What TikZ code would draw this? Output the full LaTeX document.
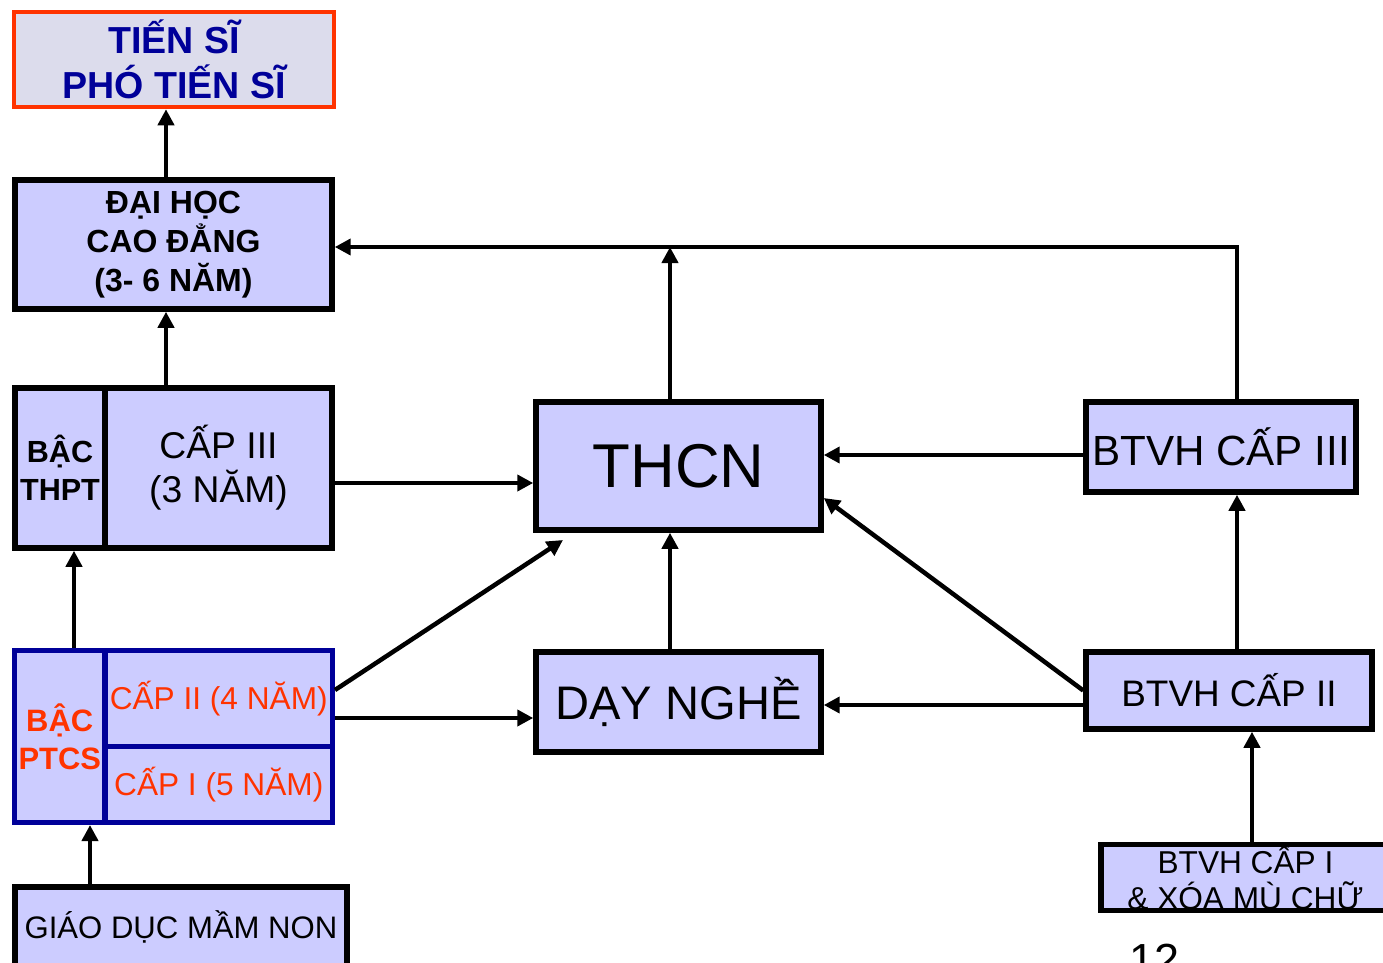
\documentclass[tikz,border=0pt]{standalone}
\usepackage{fontspec}
\setmainfont{Liberation Sans}
\usetikzlibrary{arrows.meta}

\definecolor{boxfill}{HTML}{CCCCFF}
\definecolor{topfill}{HTML}{DCDCEC}
\definecolor{redline}{HTML}{FF3300}
\definecolor{navy}{HTML}{000099}

\begin{document}
\begin{tikzpicture}[x=0.1mm, y=-0.1mm,
			box/.style={rectangle, draw, fill=boxfill, line width=0.55mm, inner sep=0pt, align=center},
			bluebox/.style={box, draw=navy, line width=0.5mm, text=redline},
			arr/.style={-{Triangle[length=1.6mm, width=1.6mm]}, line width=0.45mm}
			]
			\useasboundingbox (0,0) rectangle (1383,963);
			\clip (0,0) rectangle (1383,963);
			
			% Nodes
			\node[box, draw=redline, line width=0.45mm, fill=topfill, text=navy, minimum width=32mm, minimum height=9.5mm,
				font=\fontsize{10.7}{12.8}\selectfont\bfseries] (ts) at (174,59.5) {TIẾN SĨ\\PHÓ TIẾN SĨ};
			\node[box, minimum width=31.7mm, minimum height=12.9mm,
				font=\fontsize{9.1}{11.1}\selectfont\bfseries] (dh) at (173.5,244.5) {ĐẠI HỌC\\CAO ĐẲNG\\(3- 6 NĂM)};
			
			\node[box, minimum width=9mm, minimum height=16mm,
				font=\fontsize{8.7}{10.8}\selectfont\bfseries] (thptL) at (60,468) {BẬC\\THPT};
			\node[box, minimum width=22.7mm, minimum height=16mm,
				font=\fontsize{10.6}{12.5}\selectfont] (thptR) at (218.5,468) {CẤP III\\(3 NĂM)};
			
			\node[bluebox, minimum width=9.05mm, minimum height=17.2mm,
				font=\fontsize{8.8}{10.8}\selectfont\bfseries] (ptcsL) at (59.75,736.5) {BẬC\\PTCS};
			\node[bluebox, minimum width=22.75mm, minimum height=9.55mm,
				font=\fontsize{9}{11}\selectfont] (ptcs2) at (218.75,698.25) {CẤP II (4 NĂM)};
			\node[bluebox, minimum width=22.75mm, minimum height=7.65mm,
				font=\fontsize{9}{11}\selectfont] (ptcs1) at (218.75,784.25) {CẤP I (5 NĂM)};
			
			\node[box, minimum width=33.2mm, minimum height=8mm,
				font=\fontsize{8.85}{11}\selectfont] (mn) at (181,927) {GIÁO DỤC MẦM NON};
			
			\node[box, minimum width=28.5mm, minimum height=12.8mm,
				font=\fontsize{17.6}{20}\selectfont] (thcn) at (678.5,466) {THCN};
			\node[box, minimum width=28.5mm, minimum height=10mm,
				font=\fontsize{13.4}{16}\selectfont] (ng) at (678.5,702) {DẠY NGHỀ};
			
			\node[box, minimum width=27mm, minimum height=9mm,
				font=\fontsize{12}{14}\selectfont] (b3) at (1221,447) {BTVH CẤP III};
			\node[box, minimum width=28.6mm, minimum height=7.7mm,
				font=\fontsize{10.5}{12}\selectfont] (b2) at (1229,690.5) {BTVH CẤP II};
			\node[box, minimum width=28.9mm, minimum height=6.3mm,
				font=\fontsize{9}{10.5}\selectfont] (b1) at (1245.5,877.5) {BTVH CẤP I\\\& XÓA MÙ CHỮ};
			
			\node[anchor=north, inner sep=0pt, font=\fontsize{12.8}{14}\selectfont] (pgnum) at (1155,943) {12};
			
			% Columns and rows
			\coordinate (colA) at (166,0);
			\coordinate (colB) at (74,0);
			\coordinate (colC) at (90,0);
			\coordinate (colD) at (670,0);
			\coordinate (colE) at (1237,0);
			\coordinate (colF) at (1252,0);
			\coordinate (rowTop) at (0,247);
			\coordinate (thcnIn) at (563,540);
			
			% Edges
			\draw[arr] (colA |- dh.north) -- (colA |- ts.south);
			\draw[arr] (colA |- thptR.north) -- (colA |- dh.south);
			\draw[arr] (colB |- ptcsL.north) -- (colB |- thptL.south);
			\draw[arr] (colC |- mn.north) -- (colC |- ptcsL.south);
			
			\draw[arr] (0,483 -| thptR.east) -- (0,483 -| thcn.west);
			\draw[arr] (0,690 -| ptcs2.east) -- (thcnIn);
			\draw[arr] (0,718 -| ptcs2.east) -- (0,718 -| ng.west);
			
			\draw[arr] (colD |- ng.north) -- (colD |- thcn.south);
			\draw[arr] (colD |- thcn.north) -- (colD |- rowTop);
			\draw[arr] (colE |- b3.north) -- (colE |- rowTop) -- (rowTop -| dh.east);
			
			\draw[arr] (0,455 -| b3.west) -- (0,455 -| thcn.east);
			\draw[arr] (b2.west) -- ([yshift=-3.2mm]thcn.east);
			\draw[arr] (0,705 -| b2.west) -- (0,705 -| ng.east);
			\draw[arr] (colE |- b2.north) -- (colE |- b3.south);
			\draw[arr] (colF |- b1.north) -- (colF |- b2.south);
			
		\end{tikzpicture}
\end{document}
